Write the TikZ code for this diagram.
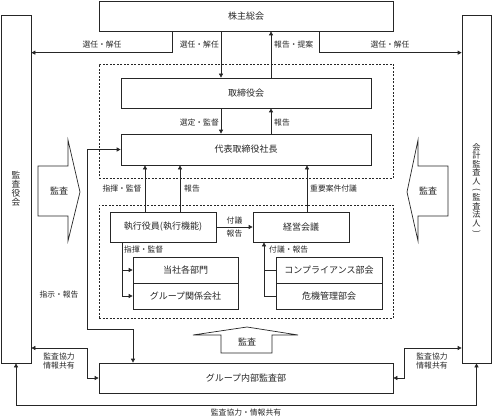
\documentclass[tikz,border=0pt]{standalone}
\usepackage{fontspec}
\setmainfont{Noto Sans CJK JP}
\usepackage{graphicx}
\usetikzlibrary{arrows.meta}
\begin{document}
\begin{tikzpicture}[x=1pt,y=-1pt,
  box/.style={draw=black!85, line width=0.7pt, fill=white, inner sep=0pt,
    font=\fontsize{9}{10}\selectfont, text=black!85},
  lbl/.style={font=\fontsize{7.8}{9}\selectfont, inner sep=0pt, text=black!85},
  bigl/.style={font=\fontsize{9}{10}\selectfont, inner sep=0pt, text=black!85},
  ln/.style={draw=black!85, line width=0.7pt},
  arr/.style={ln, -{Triangle[length=4pt,width=4pt]}},
  darr/.style={ln, {Triangle[length=4pt,width=4pt]}-{Triangle[length=4pt,width=4pt]}},
  dbox/.style={draw=black!85, line width=0.7pt, dash pattern=on 2pt off 1.5pt, inner sep=0pt},
  vtext/.style={align=center, inner sep=0pt, text=black!85},
  bigarrow/.style={draw=black!85, line width=0.7pt, fill=white},
]
\useasboundingbox (0,0) rectangle (492,417);

% dashed groups
\node[dbox, minimum width=294pt, minimum height=114pt] (g1) at (246,121) {};
\node[dbox, minimum width=294pt, minimum height=113pt] (g2) at (246,261.5) {};

% main boxes
\node[box, minimum width=294pt, minimum height=30pt] (sh) at (246,16) {株主総会};
\node[box, minimum width=30pt, minimum height=348pt] (kl) at (16,189) {};
\node[box, minimum width=29pt, minimum height=348pt] (kr) at (476.5,189) {};
\node[vtext, font=\fontsize{8.7}{9}\selectfont] (kltext) at (kl.center) {監\\査\\役\\会};
\node[vtext, font=\fontsize{8.2}{8.4}\selectfont] (krtext) at (kr.center)
  {会\\計\\監\\査\\人\\\rotatebox[origin=c]{-90}{(}\\監\\査\\法\\人\\\rotatebox[origin=c]{-90}{)}};

\node[box, minimum width=250pt, minimum height=30pt] (tb) at (246,93) {取締役会};
\node[box, minimum width=250pt, minimum height=31pt] (ceo) at (246,149.5) {代表取締役社長};
\node[box, minimum width=106pt, minimum height=30pt] (ex) at (163,227) {執行役員(執行機能)};
\node[box, minimum width=96pt, minimum height=30pt] (km) at (301,227) {経営会議};
\node[box, minimum width=105pt, minimum height=26pt] (d1) at (185.5,270) {当社各部門};
\node[box, minimum width=105pt, minimum height=26pt] (d2) at (185.5,296) {グループ関係会社};
\node[box, minimum width=106pt, minimum height=26pt] (c1) at (329,270) {コンプライアンス部会};
\node[box, minimum width=106pt, minimum height=26pt] (c2) at (329,296) {危機管理部会};
\node[box, minimum width=294pt, minimum height=30pt] (ia) at (246,378) {グループ内部監査部};

% big audit arrows
\draw[bigarrow] (38,166) -- (68,166) -- (68,140) -- (80,192) -- (68,241) -- (68,216) -- (38,216) -- cycle;
\node[bigl] (aL) at (59,191) {監査};
\draw[bigarrow] (448,166) -- (418,166) -- (418,140) -- (407,192) -- (418,241) -- (418,216) -- (448,216) -- cycle;
\node[bigl] (aR) at (428,191) {監査};
\draw[bigarrow] (221,353) -- (221,335) -- (193,335) -- (247,327) -- (298,335) -- (272,335) -- (272,353) -- cycle;
\node[bigl] (aB) at (247,342) {監査};

% shareholders connections
\draw[arr] ([xshift=-74pt]sh.south) |- ([yshift=-38pt]kl.north east);
\node[lbl] (l1) at (102,45) {選任・解任};
\draw[arr] ([xshift=-25pt]sh.south) -- ([xshift=-25pt]tb.north);
\node[lbl, anchor=east] (l2) at (219,45) {選任・解任};
\draw[arr] ([xshift=73pt]sh.south) |- ([yshift=-38pt]kr.north west);
\node[lbl] (l3) at (390,45) {選任・解任};
\draw[arr] ([xshift=25pt]tb.north) -- ([xshift=25pt]sh.south);
\node[lbl, anchor=west] (l4) at (274,45) {報告・提案};

% board - ceo
\draw[arr] ([xshift=-25pt]tb.south) -- ([xshift=-25pt]ceo.north);
\node[lbl, anchor=east] (l5) at (219,123) {選定・監督};
\draw[arr] ([xshift=25pt]ceo.north) -- ([xshift=25pt]tb.south);
\node[lbl, anchor=west] (l6) at (274,123) {報告};

% exec - ceo
\draw[arr] ([xshift=-18pt]ex.north) -- ([xshift=-18pt]ex.north |- ceo.south);
\draw[arr] ([xshift=17pt]ex.north) -- ([xshift=17pt]ex.north |- ceo.south);
\node[lbl] (l7) at (122,189) {指揮・監督};
\node[lbl, anchor=west] (l8) at (184,189) {報告};
\draw[arr] ([xshift=6pt]km.north) -- ([xshift=6pt]km.north |- ceo.south);
\node[lbl, anchor=west] (l9) at (310,189) {重要案件付議};

% exec - management meeting
\draw[arr] (ex.east) -- (km.west);
\node[lbl] (l10) at (234.5,220.5) {付議};
\node[lbl] (l11) at (234.5,234) {報告};

% exec - departments
\coordinate (exd) at ([xshift=-41pt]ex.south);
\draw[arr] (exd) |- (d2.west);
\draw[arr] (exd |- d1.west) -- (d1.west);
\node[lbl, anchor=west] (l12) at (124,250) {指揮・監督};

% committees - management meeting
\coordinate (kmd) at ([xshift=-37pt]km.south);
\draw[arr] (c2.west) -| (kmd);
\draw[ln] (c1.west) -- (c1.west -| kmd);
\node[lbl, anchor=west] (l13) at (269,250) {付議・報告};

% instruction / report
\coordinate (p1) at (87,329);
\draw[darr] ([xshift=-113pt]ia.north) |- (p1) |- (ceo.west);
\node[lbl] (l14) at (59,295) {指示・報告};

% audit cooperation left
\coordinate (p2) at (87,348);
\draw[darr] (kl.east |- p2) -- (p2) |- (ia.west);
\node[lbl, align=center] (l15) at (59,361.5) {監査協力\\情報共有};

% audit cooperation right
\coordinate (p3) at (404,348);
\draw[darr] (ia.east) -| (p3) -- (kr.west |- p3);
\node[lbl, align=center] (l16) at (432,361.5) {監査協力\\情報共有};

% bottom
\coordinate (p4) at ([yshift=-12pt]ia.south);
\draw[darr] (kl.south) |- (p4) -| (kr.south);
\node[lbl] (l17) at (246,412.5) {監査協力・情報共有};
\end{tikzpicture}
\end{document}
